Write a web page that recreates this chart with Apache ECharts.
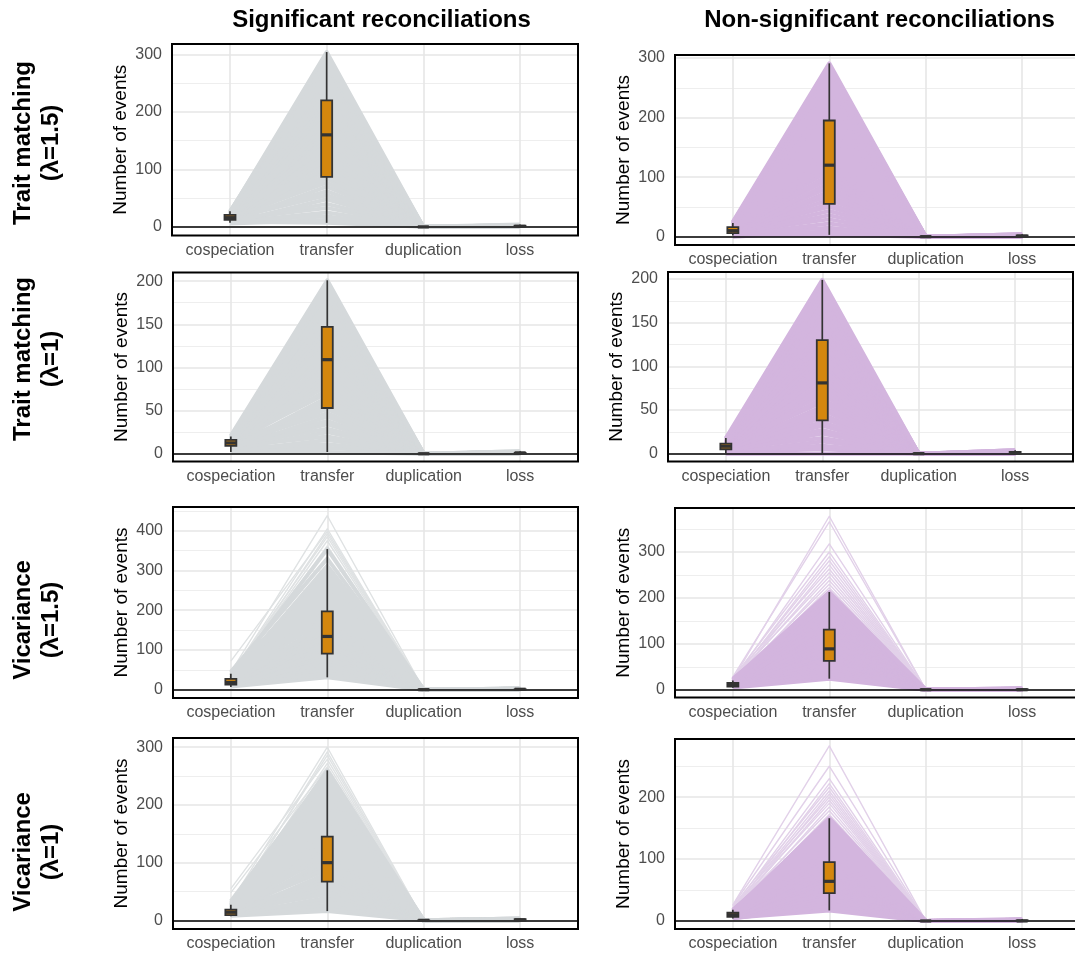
<!DOCTYPE html>
<html><head><meta charset="utf-8">
<script src="https://cdn.jsdelivr.net/npm/echarts@6/dist/echarts.min.js"></script>
<style>html,body{margin:0;padding:0;background:#fff}#c{width:1075px;height:960px}</style>
</head><body><div id="c"></div>
<script>
// ---------- labels ----------
const categories = ['cospeciation', 'transfer', 'duplication', 'loss'];
const columnTitles = ['Significant reconciliations', 'Non-significant reconciliations'];
const rowTitles = ['Trait matching\n(\u03bb=1.5)', 'Trait matching\n(\u03bb=1)', 'Vicariance\n(\u03bb=1.5)', 'Vicariance\n(\u03bb=1)'];
const yAxisTitle = 'Number of events';

// ---------- Trait matching (lambda=1.5), significant ----------
const sigTM15Cosp = [9,6,11,8,13,10,7,14,12,9, 16,11,13,18,10,15,12,17,14,19, 11,16,20,13,17,15,22,12,18,21, 14,19,16,23,20,25,17,22,19,24, 21,27,23,26,25];
const sigTM15Transfer = [7,12,18,25,33,40,48,55,62,70, 77,84,90,97,104,111,118,125,132,139, 146,153,160,166,172,178,184,190,196,202, 208,214,220,226,232,238,245,252,259,266, 273,280,288,296,304];
const sigTM15Dup = [0,0,0,0,0,0,0,0,0,0, 0,0,0,0,0,0,0,0,0,0, 0,0,0,0,0,0,0,0,0,0, 0,0,0,0,0,0,0,0,0,0, 0,0,0,0,0];
const sigTM15Loss = [1,0,2,1,0,3,1,2,0,1, 2,1,0,2,1,3,1,0,2,1, 1,2,0,1,3,1,2,0,1,2, 1,0,2,1,1,3,0,2,1,1, 2,0,1,4,2];
const sigTM15Box = [[7,12,16,21,27],[7,87,160,220,304],[0,0,0,0,0],[0,1,1,2,4]];

// ---------- Trait matching (lambda=1.5), non-significant ----------
const nonTM15Cosp = [2,0,5,3,7,4,6,9,5,8, 11,6,10,7,12,9,14,8,11,13, 10,15,12,9,16,11,14,18,13,10, 17,15,20,12,16,19,14,22,17,21, 15,24,18,23,25];
const nonTM15Transfer = [3,9,15,22,29,36,43,50,55,62, 69,76,83,90,97,104,111,116,120,126, 133,140,147,154,161,168,175,182,189,195, 201,208,215,222,229,236,243,250,257,264, 270,276,282,287,291];
const nonTM15Dup = [0,0,0,0,0,0,0,0,0,0, 0,0,0,0,0,0,0,0,0,0, 0,0,0,0,0,0,0,0,0,0, 0,0,0,0,0,0,0,0,0,0, 0,0,0,0,0];
const nonTM15Loss = [0,1,0,2,1,0,3,1,0,2, 1,4,0,1,2,0,1,3,1,0, 2,1,0,4,1,2,0,1,3,0, 2,1,0,1,2,4,0,1,3,1, 0,2,1,0,2];
const nonTM15Box = [[2,6,10,16,23],[3,55,120,195,291],[0,0,0,0,0],[0,0,1,2,4]];

// ---------- Trait matching (lambda=1), significant ----------
const sigTM1Cosp = [2,4,6,3,8,5,9,7,10,6, 11,8,12,9,7,13,10,12,14,9, 11,15,12,13,10,16,12,14,11,17, 13,15,12,18,14,16,13,19,15,17, 14,20,16,18,21];
const sigTM1Transfer = [2,7,11,16,20,25,29,34,38,43, 47,52,56,61,65,70,74,79,83,88, 92,97,101,106,110,115,119,124,128,133, 137,142,146,151,155,160,164,169,173,178, 182,187,191,196,201];
const sigTM1Dup = [0,0,0,0,0,0,0,0,0,0, 0,0,0,0,0,0,0,0,0,0, 0,0,0,0,0,0,0,0,0,0, 0,0,0,0,0,0,0,0,0,0, 0,0,0,0,0];
const sigTM1Loss = [0,1,0,1,0,2,1,0,1,0, 1,2,0,1,0,1,3,0,1,0, 2,1,0,1,0,1,2,0,1,0, 1,0,2,1,0,1,0,1,3,0, 1,0,1,2,1];
const sigTM1Box = [[2,9,12.5,16,20],[2,53,109,147,201],[0,0,0,0,0],[0,0,1,1,3]];

// ---------- Trait matching (lambda=1), non-significant ----------
const nonTM1Cosp = [0,2,4,1,5,3,6,4,7,5, 8,3,6,9,5,7,10,6,8,11, 7,9,12,8,10,6,13,9,11,8, 14,10,12,9,15,11,13,10,16,12, 14,11,17,13,18];
const nonTM1Transfer = [0,5,9,14,18,23,27,32,36,41, 45,50,54,59,63,68,72,77,81,86, 90,95,99,104,108,113,117,122,126,131, 135,140,144,149,153,158,162,167,171,176, 180,185,189,194,199];
const nonTM1Dup = [0,0,0,0,0,0,0,0,0,0, 0,0,0,0,0,0,0,0,0,0, 0,0,0,0,0,0,0,0,0,0, 0,0,0,0,0,0,0,0,0,0, 0,0,0,0,0];
const nonTM1Loss = [0,1,2,0,1,3,0,2,1,0, 4,1,0,2,1,0,1,3,0,2, 1,0,1,2,4,0,1,0,2,1, 3,0,1,2,0,1,4,0,2,1, 0,1,3,0,2];
const nonTM1Box = [[0,5,8.5,11.5,18],[0,38,81,130,199],[0,0,0,0,0],[0,0,1,2,4]];

// ---------- Vicariance (lambda=1.5), significant ----------
const sigV15Cosp = [8,12,10,15,13,18,11,20,16,14, 22,17,19,25,15,21,27,18,24,13, 30,20,26,23,35,19,28,22,32,25, 38,21,30,27,42,24,34,29,45,36, 26,33,40,29,72,38,44];
const sigV15Transfer = [31,38,45,52,60,67,75,82,90,97, 105,112,120,127,134,142,150,157,165,172, 180,187,195,202,210,217,225,232,240,248, 256,264,272,280,288,296,304,312,330,354, 362,375,385,392,398,405,438];
const sigV15Dup = [0,0,0,0,0,0,0,0,0,0, 0,0,0,0,0,0,0,0,0,0, 0,0,0,0,0,0,0,0,0,0, 0,0,0,0,0,0,0,0,0,0, 0,0,0,0,0,0,0];
const sigV15Loss = [0,1,0,2,1,0,1,3,0,1, 2,0,1,0,2,1,0,1,3,0, 1,2,0,1,0,2,1,0,1,3, 0,1,2,0,1,0,2,1,0,1, 1,0,2,0,1,1,2];
const sigV15Box = [[7,13,18,27,40],[31,91,134,197,354],[0,0,0,0,0],[0,0,1,1,3]];

// ---------- Vicariance (lambda=1.5), non-significant ----------
const nonV15Cosp = [5,8,6,10,7,12,9,11,8,14, 10,13,7,15,11,9,16,12,14,10, 18,13,11,17,15,12,20,14,19,16, 22,13,18,24,17,21, 14,19,12,23,17,26,15,21,18,25,20,28,22];
const nonV15Transfer = [24,30,36,42,47,52,57,62,66,70, 74,78,82,86,90,94,98,102,107,112, 117,122,127,132,138,144,150,156,162,168, 174,182,190,198,206,213, 222,230,238,246,255,263,272,281,290,300,318,366,378];
const nonV15Dup = [0,0,0,0,0,0,0,0,0,0, 0,0,0,0,0,0,0,0,0,0, 0,0,0,0,0,0,0,0,0,0, 0,0,0,0,0,0, 0,0,0,0,0,0,0,0,0,0,0,0,0];
const nonV15Loss = [0,1,0,0,2,0,1,0,0,1, 3,0,0,1,0,2,0,1,0,0, 1,0,2,0,1,0,0,1,0,3, 0,1,0,0,1,2, 0,1,0,2,0,1,0,1,0,1,0,2,1];
const nonV15Box = [[4,7,11,15,20],[24,63,89,131,213],[0,0,0,0,0],[0,0,0,1,3]];

// ---------- Vicariance (lambda=1), significant ----------
const sigV1Cosp = [8,12,10,14,9,16,11,13,18,12, 15,10,20,14,17,13,22,16,11,19, 15,24,18,13,21,17,26,14,20,23, 16,28,19,25,15,22,30,18,27,21, 33,24, 48,22,55,27,20,31];
const sigV1Transfer = [16,22,27,33,39,45,51,57,63,69, 75,81,87,93,99,105,111,117,123,129, 135,141,147,153,159,165,171,177,183,189, 195,201,207,213,219,225,231,237,243,249, 255,260, 266,272,279,286,292,300];
const sigV1Dup = [0,0,0,0,0,0,0,0,0,0, 0,0,0,0,0,0,0,0,0,0, 0,0,0,0,0,0,0,0,0,0, 0,0,0,0,0,0,0,0,0,0, 0,0, 0,0,0,0,0,0];
const sigV1Loss = [0,1,2,0,1,0,1,3,0,2, 1,0,1,0,2,1,0,1,0,3, 1,0,2,1,0,1,0,2,1,0, 1,3,0,1,2,0,1,0,2,1, 0,1, 1,0,2,1,0,1];
const sigV1Box = [[7,9,14,18.5,27],[16,67,100,145,260],[0,0,0,0,0],[0,0,1,2,3]];

// ---------- Vicariance (lambda=1), non-significant ----------
const nonV1Cosp = [5,7,4,9,6,8,11,7,10,5, 12,8,9,13,6,11,10,14,8,12, 15,9,13,11,16,10,14,18,12,17, 15, 13,18,11,20,16,22,14,19,24,17,21,25,26];
const nonV1Transfer = [17,21,25,30,35,40,44,48,52,56, 60,64,68,72,76,80,85,90,95,100, 106,112,118,124,130,136,142,148,154,160, 166, 172,178,184,190,195,200,205,210,216,222,230,250,283];
const nonV1Dup = [0,0,0,0,0,0,0,0,0,0, 0,0,0,0,0,0,0,0,0,0, 0,0,0,0,0,0,0,0,0,0, 0, 0,0,0,0,0,0,0,0,0,0,0,0,0];
const nonV1Loss = [0,1,0,0,2,0,1,0,0,1, 0,3,0,1,0,0,2,0,1,0, 0,1,0,2,0,1,0,0,1,0, 2, 0,1,0,1,0,2,0,1,0,1,0,1,2];
const nonV1Box = [[4,6.5,10,13.5,18],[17,45,64,95,166],[0,0,0,0,0],[0,0,0,1,3]];

// ---------- styling / layout ----------
const FONT = "'Liberation Sans', Arial, Helvetica, sans-serif";
const GRAY = {full: '#d5d9db', light: '#dfe2e3'};
const PURPLE = {full: '#d3b5de', light: '#e2d1e9'};
const BOX_FILL = '#d4870e';
const DARK = '#333333';

const panels = [
  {c: sigTM15Cosp, t: sigTM15Transfer, d: sigTM15Dup, l: sigTM15Loss, box: sigTM15Box, yMin: -15, yMax: 318, major: 100, pal: GRAY,   rect: [172, 44, 406, 191.5]},
  {c: nonTM15Cosp, t: nonTM15Transfer, d: nonTM15Dup, l: nonTM15Loss, box: nonTM15Box, yMin: -14, yMax: 305, major: 100, pal: PURPLE, rect: [675, 55, 405, 190]},
  {c: sigTM1Cosp,  t: sigTM1Transfer,  d: sigTM1Dup,  l: sigTM1Loss,  box: sigTM1Box,  yMin: -9,  yMax: 210, major: 50,  pal: GRAY,   rect: [173, 272.5, 405, 189]},
  {c: nonTM1Cosp,  t: nonTM1Transfer,  d: nonTM1Dup,  l: nonTM1Loss,  box: nonTM1Box,  yMin: -9,  yMax: 208, major: 50,  pal: PURPLE, rect: [668, 272, 405, 189.5]},
  {c: sigV15Cosp,  t: sigV15Transfer,  d: sigV15Dup,  l: sigV15Loss,  box: sigV15Box,  yMin: -21, yMax: 460, major: 100, pal: GRAY,   rect: [173, 507, 405, 191]},
  {c: nonV15Cosp,  t: nonV15Transfer,  d: nonV15Dup,  l: nonV15Loss,  box: nonV15Box,  yMin: -17, yMax: 396, major: 100, pal: PURPLE, rect: [675, 508, 405, 189.5]},
  {c: sigV1Cosp,   t: sigV1Transfer,   d: sigV1Dup,   l: sigV1Loss,   box: sigV1Box,   yMin: -15, yMax: 316, major: 100, pal: GRAY,   rect: [173, 738, 405, 191]},
  {c: nonV1Cosp,   t: nonV1Transfer,   d: nonV1Dup,   l: nonV1Loss,   box: nonV1Box,   yMin: -13, yMax: 294, major: 100, pal: PURPLE, rect: [675, 739, 405, 190]}
];

const X_MIN = 0.4, X_MAX = 4.6;

function renderBox(params, api) {
  const x = api.value(0);
  const pts = [1, 2, 3, 4, 5].map(k => api.coord([x, api.value(k)]));
  const cx = pts[0][0];
  const [yMin, yQ1, yMed, yQ3, yMax] = pts.map(p => p[1]);
  const hw = 5.5;
  return {
    type: 'group',
    children: [
      {type: 'line', shape: {x1: cx, y1: yMax, x2: cx, y2: yQ3}, style: {stroke: DARK, lineWidth: 1.7}},
      {type: 'line', shape: {x1: cx, y1: yQ1, x2: cx, y2: yMin}, style: {stroke: DARK, lineWidth: 1.7}},
      {type: 'rect', shape: {x: cx - hw, y: yQ3, width: 2 * hw, height: Math.max(yQ1 - yQ3, 0.01)},
       style: {fill: BOX_FILL, stroke: DARK, lineWidth: 1.8}},
      {type: 'line', shape: {x1: cx - hw, y1: yMed, x2: cx + hw, y2: yMed}, style: {stroke: DARK, lineWidth: 3.2}}
    ]
  };
}

const grid = [], xAxis = [], yAxis = [], series = [], graphic = [];

panels.forEach((p, i) => {
  const [L, T, W, H] = p.rect;
  grid.push({left: L, top: T, width: W, height: H, show: false, containLabel: false, outerBoundsMode: 'none'});
  xAxis.push({
    gridIndex: i, type: 'value', min: X_MIN, max: X_MAX, interval: 0.2,
    axisLine: {show: false}, axisTick: {show: false}, splitLine: {show: false},
    axisLabel: {
      margin: 7, color: '#4d4d4d', fontSize: 16, fontFamily: FONT,
      formatter: v => { const r = Math.round(v); return (Math.abs(v - r) < 1e-6 && r >= 1 && r <= 4) ? categories[r - 1] : ''; }
    }
  });
  yAxis.push({
    gridIndex: i, type: 'value', min: p.yMin, max: p.yMax, interval: 1,
    axisLine: {show: false}, axisTick: {show: false}, splitLine: {show: false},
    axisLabel: {
      margin: 10, color: '#4d4d4d', fontSize: 16, fontFamily: FONT,
      formatter: v => (Math.abs(v % p.major) < 1e-9 ? String(v) : '')
    },
    name: yAxisTitle, nameLocation: 'middle', nameGap: 42,
    nameTextStyle: {color: '#000', fontSize: 19, fontFamily: FONT}
  });

  // gridlines
  const gl = [];
  const half = p.major / 2;
  for (let v = Math.ceil(p.yMin / half) * half; v <= p.yMax; v += half) {
    const isMajor = Math.abs(v % p.major) < 1e-9;
    gl.push({coords: [[X_MIN, v], [X_MAX, v]], lineStyle: {color: isMajor ? '#e6e6e6' : '#eeeeee', width: isMajor ? 1.6 : 1.1, opacity: 1}});
  }
  for (let k = 1; k <= categories.length; k++) {
    gl.push({coords: [[k, p.yMin], [k, p.yMax]], lineStyle: {color: '#e6e6e6', width: 1.6, opacity: 1}});
  }
  series.push({type: 'lines', coordinateSystem: 'cartesian2d', xAxisIndex: i, yAxisIndex: i, silent: true, z: 1,
    lineStyle: {opacity: 1}, data: gl, animation: false});

  // event lines (one per reconciliation)
  const light = [], core = [];
  const whiskerHigh = p.box[1][4];
  p.t.forEach((tv, j) => {
    const item = {coords: [[1, p.c[j]], [2, tv], [3, p.d[j]], [4, p.l[j]]]};
    (tv > whiskerHigh ? light : core).push(item);
  });
  series.push({type: 'lines', coordinateSystem: 'cartesian2d', xAxisIndex: i, yAxisIndex: i, polyline: true, silent: true, z: 2,
    lineStyle: {color: p.pal.light, width: 1.4, opacity: 1, join: 'round'}, data: light, animation: false});
  series.push({type: 'lines', coordinateSystem: 'cartesian2d', xAxisIndex: i, yAxisIndex: i, polyline: true, silent: true, z: 3,
    lineStyle: {color: p.pal.full, width: 4, opacity: 1, join: 'round'}, data: core, animation: false});

  // zero line
  series.push({type: 'lines', coordinateSystem: 'cartesian2d', xAxisIndex: i, yAxisIndex: i, silent: true, z: 4,
    lineStyle: {color: '#000', width: 1.7, opacity: 1}, data: [{coords: [[X_MIN, 0], [X_MAX, 0]]}], animation: false});

  // boxplots
  series.push({type: 'custom', xAxisIndex: i, yAxisIndex: i, silent: true, z: 5, animation: false,
    renderItem: renderBox, encode: {x: 0, y: [1, 2, 3, 4, 5]},
    data: p.box.map((b, k) => [k + 1].concat(b))});

  // panel border
  graphic.push({type: 'rect', z: 100, silent: true, shape: {x: L, y: T, width: W, height: H},
    style: {fill: 'none', stroke: '#000', lineWidth: 2}});
});

// column titles
[[381.5, 20], [879.5, 20]].forEach((pos, k) => {
  graphic.push({type: 'text', x: pos[0], y: pos[1], z: 100, silent: true,
    style: {text: columnTitles[k], font: "bold 24px " + FONT, fill: '#000',
      align: 'center', verticalAlign: 'middle', textAlign: 'center', textVerticalAlign: 'middle'}});
});
// row titles
[143, 359, 620, 852].forEach((cy, k) => {
  graphic.push({type: 'text', x: 37.5, y: cy, rotation: Math.PI / 2, z: 100, silent: true,
    style: {text: rowTitles[k], font: "bold 24px " + FONT, fill: '#000', lineHeight: 28,
      align: 'center', verticalAlign: 'middle', textAlign: 'center', textVerticalAlign: 'middle'}});
});

const chart = echarts.init(document.getElementById('c'), null, {renderer: 'canvas'});
chart.setOption({backgroundColor: '#fff', animation: false, grid, xAxis, yAxis, series, graphic});
</script>
</body></html>
